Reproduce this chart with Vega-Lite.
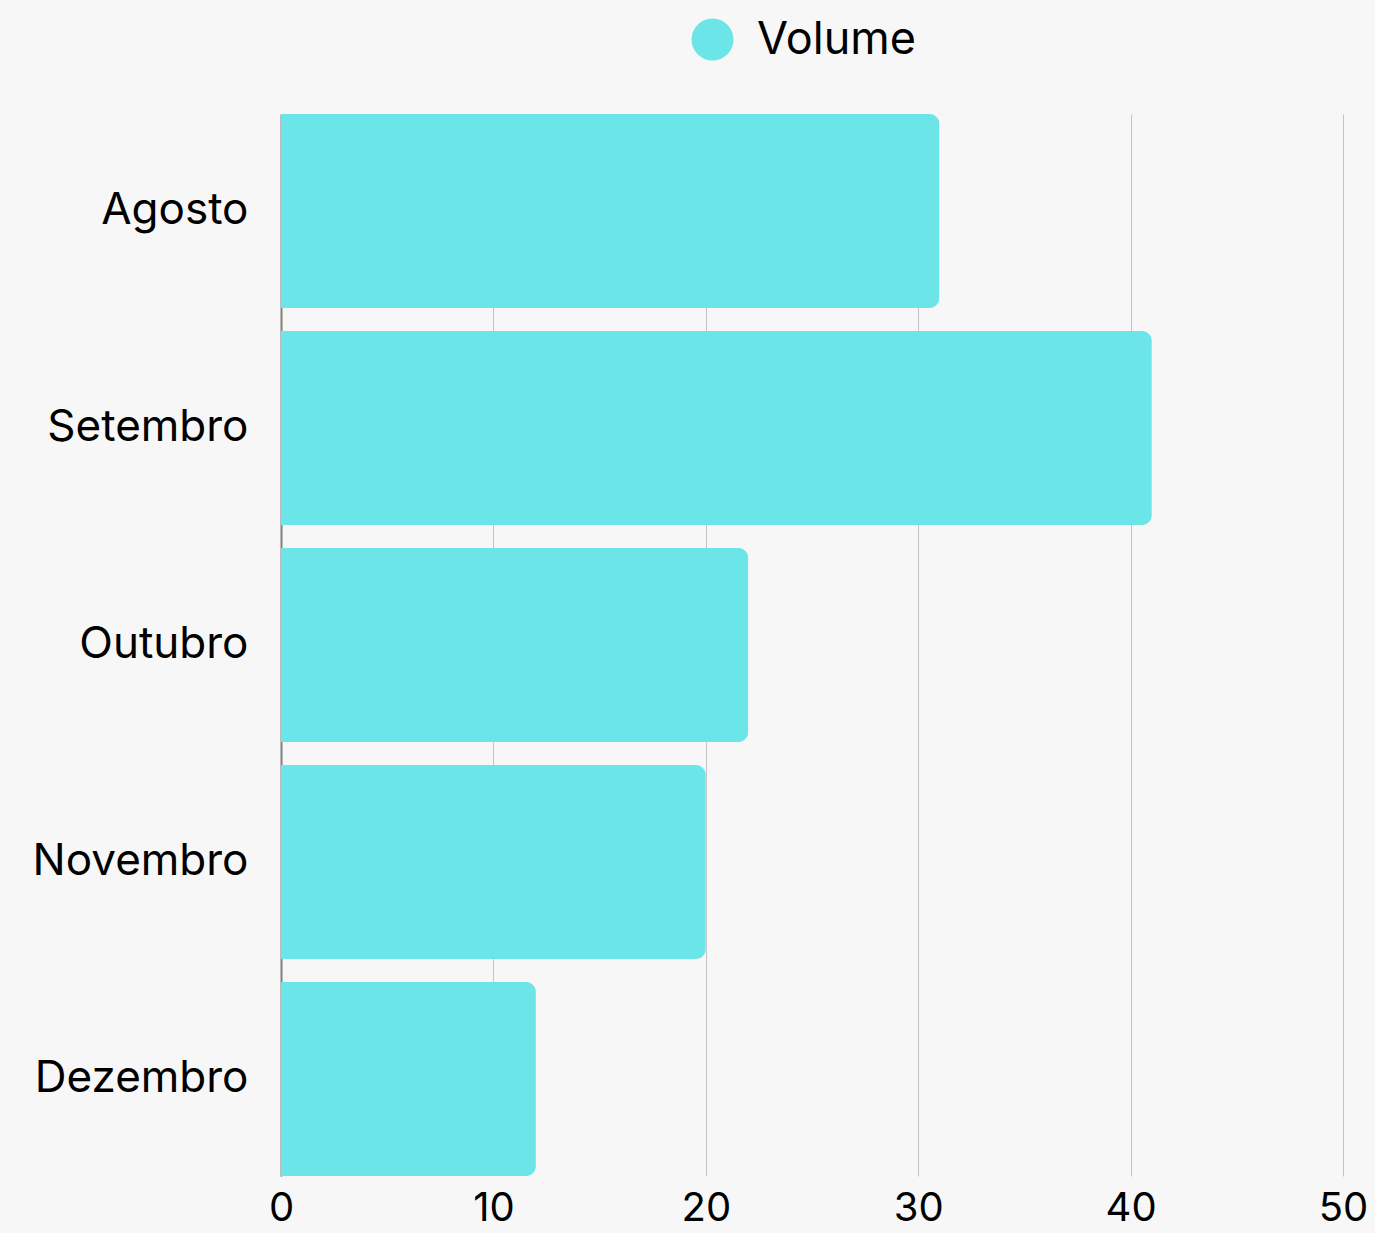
{
  "$schema": "https://vega.github.io/schema/vega-lite/v6.json",
  "autosize": "none",
  "width": 1062,
  "height": 1062,
  "padding": {"left": 281, "top": 114, "right": 32, "bottom": 57},
  "background": "#f7f7f7",
  "data": {
    "values": [
      {"mes": "Agosto", "valor": 31, "serie": "Volume"},
      {"mes": "Setembro", "valor": 41, "serie": "Volume"},
      {"mes": "Outubro", "valor": 22, "serie": "Volume"},
      {"mes": "Novembro", "valor": 20, "serie": "Volume"},
      {"mes": "Dezembro", "valor": 12, "serie": "Volume"}
    ]
  },
  "config": {
    "view": {"stroke": null},
    "font": "Inter"
  },
  "mark": {"type": "bar", "cornerRadiusEnd": 10},
  "encoding": {
    "y": {
      "field": "mes",
      "type": "nominal",
      "sort": ["Agosto", "Setembro", "Outubro", "Novembro", "Dezembro"],
      "scale": {"paddingInner": 0.106, "paddingOuter": 0},
      "axis": {
        "title": null,
        "ticks": false,
        "domain": true,
        "domainColor": "#808080",
        "domainWidth": 2,
        "labelFontSize": 44,
        "labelColor": "#000000",
        "labelPadding": 33,
        "labelLimit": 0,
        "labelFont": "Inter"
      }
    },
    "x": {
      "field": "valor",
      "type": "quantitative",
      "scale": {"domain": [0, 50], "nice": false},
      "axis": {
        "title": null,
        "values": [0, 10, 20, 30, 40, 50],
        "ticks": false,
        "domain": false,
        "grid": true,
        "gridColor": "#c4c4c4",
        "gridWidth": 1,
        "labelFontSize": 40,
        "labelColor": "#000000",
        "labelPadding": 12,
        "labelFlush": false,
        "labelFont": "Inter"
      }
    },
    "color": {
      "field": "serie",
      "type": "nominal",
      "scale": {"range": ["#6ce5e8"]},
      "legend": {
        "title": null,
        "orient": "none",
        "legendX": 409,
        "legendY": -97,
        "symbolType": "circle",
        "symbolSize": 1764,
        "symbolStrokeWidth": 0,
        "labelFontSize": 45,
        "labelColor": "#000000",
        "labelOffset": 22,
        "labelFont": "Inter"
      }
    }
  }
}
